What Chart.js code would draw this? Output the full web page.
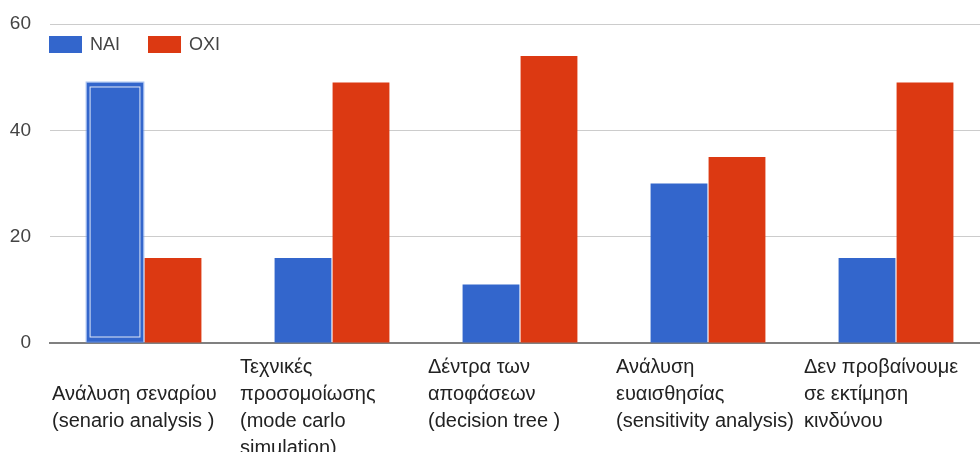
<!DOCTYPE html>
<html>
<head>
<meta charset="utf-8">
<script src="https://cdn.jsdelivr.net/npm/chart.js@4"></script>
<style>
    html, body { margin: 0; padding: 0; background: #fff; overflow: hidden; }
    #wrap { position: relative; width: 990px; height: 452px; }
</style>
</head>
<body>
<div id="wrap"><canvas id="barChart"></canvas></div>
<script>
// wrapped category labels (first one sits a line lower)
const categories = [
    ['', 'Ανάλυση σεναρίου', '(senario analysis )'],
    ['Τεχνικές', 'προσομοίωσης', '(mode carlo', 'simulation)'],
    ['Δέντρα των', 'αποφάσεων', '(decision tree )'],
    ['Ανάλυση', 'ευαισθησίας', '(sensitivity analysis)'],
    ['Δεν προβαίνουμε', 'σε εκτίμηση', 'κινδύνου']
];
const seriesNames = ['NAI', 'OXI'];
const naiValues = [49, 16, 11, 30, 16];
const oxiValues = [16, 49, 54, 35, 49];
const yTicks = [0, 20, 40, 60];

const colors = {
    nai: '#3366cc',
    oxi: '#dc3912',
    grid: '#cccccc',
    baseline: '#808080',
    axisText: '#444444',
    labelText: '#222222',
};
const fontFamily = '"Liberation Sans", Arial, sans-serif';

// legend drawn inside the plot, top-left
const insideLegend = {
    id: 'insideLegend',
    afterDraw(chart) {
        const { ctx, chartArea } = chart;
        let x = chartArea.left - 1;
        const y = chartArea.top + 12;
        ctx.save();
        ctx.font = '18px ' + fontFamily;
        ctx.textBaseline = 'middle';
        chart.data.datasets.forEach(ds => {
            ctx.fillStyle = ds.backgroundColor;
            ctx.fillRect(x, y, 33, 17);
            ctx.fillStyle = colors.axisText;
            ctx.fillText(ds.label, x + 41, y + 9);
            x += 41 + ctx.measureText(ds.label).width + 28;
        });
        ctx.restore();
    }
};

// highlighted (selected) first bar
const selectedBar = {
    id: 'selectedBar',
    afterDatasetsDraw(chart) {
        const bar = chart.getDatasetMeta(0).data[0];
        if (!bar) return;
        const { x, y, base, width } = bar.getProps(['x', 'y', 'base', 'width'], true);
        const ctx = chart.ctx;
        ctx.save();
        ctx.lineWidth = 1;
        ctx.strokeStyle = 'rgba(120, 160, 235, 0.6)';
        ctx.strokeRect(x - width / 2 - 0.5, y - 0.5, width + 1, base - y);
        ctx.strokeStyle = 'rgba(255, 255, 255, 0.85)';
        ctx.strokeRect(x - width / 2 + 3.5, y + 4.5, width - 7, base - y - 10);
        ctx.restore();
    }
};

const ctx = document.getElementById('barChart');

new Chart(ctx, {
    type: 'bar',
    data: {
        labels: categories,
        datasets: [{
            label: seriesNames[0],
            data: naiValues,
            backgroundColor: colors.nai,
            categoryPercentage: 0.617,
            barPercentage: 0.98,
        }, {
            label: seriesNames[1],
            data: oxiValues,
            backgroundColor: colors.oxi,
            categoryPercentage: 0.617,
            barPercentage: 0.98,
        }]
    },
    options: {
        responsive: true,
        maintainAspectRatio: false,
        animation: false,
        layout: {
            padding: { top: 24, right: 0, left: 0, bottom: 0 }
        },
        plugins: {
            legend: { display: false },
            tooltip: { enabled: false }
        },
        scales: {
            x: {
                grid: { display: false, drawTicks: false },
                border: { display: true, color: colors.baseline, width: 2 },
                ticks: {
                    color: colors.labelText,
                    font: { family: fontFamily, size: 20, lineHeight: 1.35 },
                    align: 'start',
                    labelOffset: -92,
                    padding: 11,
                    maxRotation: 0,
                    minRotation: 0,
                    autoSkip: false
                },
                afterFit(scale) {
                    scale.height = 109;
                    scale.paddingLeft = 0;
                    scale.paddingRight = 0;
                }
            },
            y: {
                min: 0,
                max: 60,
                grid: { color: colors.grid, lineWidth: 1, drawTicks: false },
                border: { display: false },
                ticks: {
                    color: colors.axisText,
                    font: { family: fontFamily, size: 19 },
                    padding: 19
                },
                afterBuildTicks(scale) {
                    scale.ticks = yTicks.map(v => ({ value: v }));
                },
                afterFit(scale) {
                    scale.width = 50;
                    scale.paddingTop = 0;
                    scale.paddingBottom = 0;
                }
            }
        }
    },
    plugins: [selectedBar, insideLegend]
});
</script>
</body>
</html>
